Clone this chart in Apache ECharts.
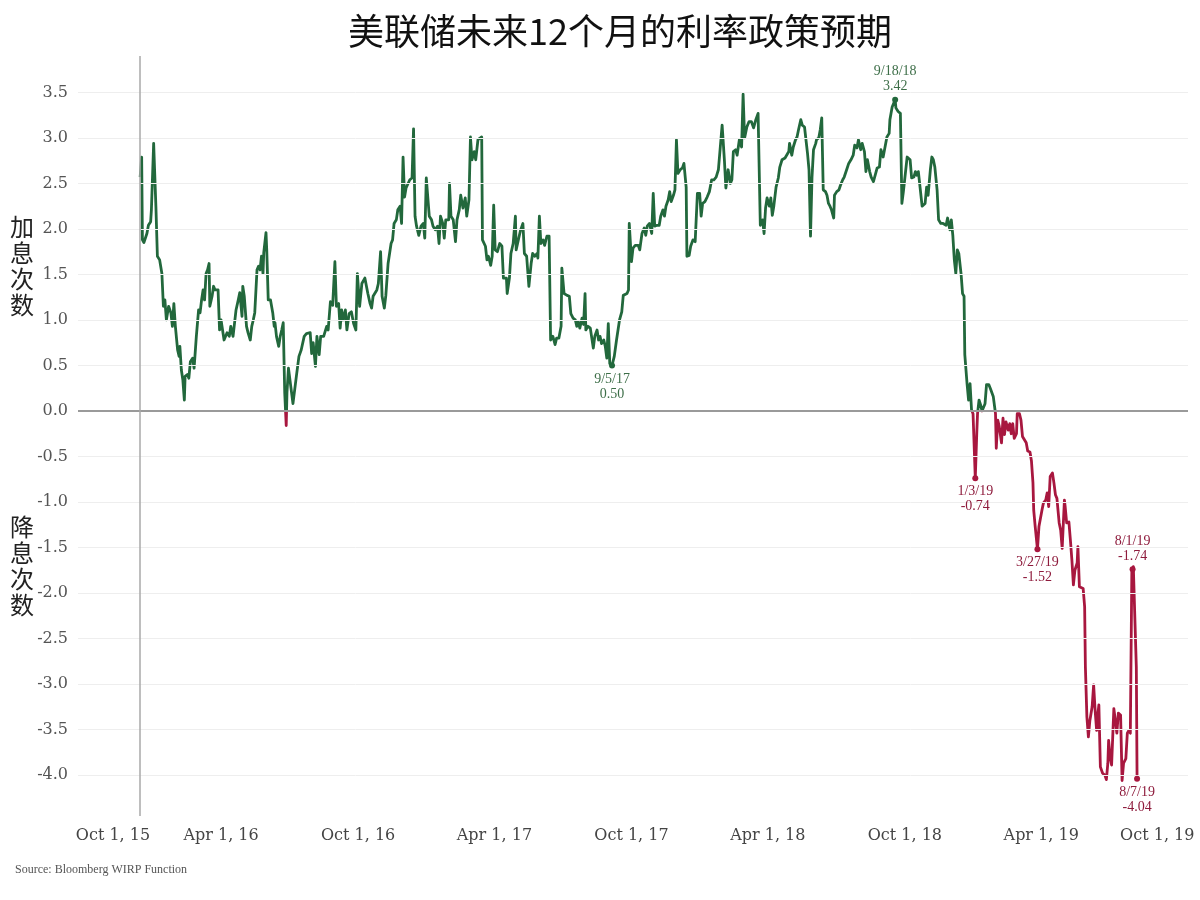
<!DOCTYPE html>
<html><head><meta charset="utf-8">
<script src="https://cdn.jsdelivr.net/npm/echarts@6/dist/echarts.min.js"></script>
<style>html,body{margin:0;padding:0;background:#fff}#c{width:1200px;height:900px}</style>
</head><body><div id="c"></div>
<script>
const dates = [
'2015-12-15','2015-12-17','2015-12-18','2015-12-20','2015-12-24','2015-12-26','2015-12-29','2015-12-30',
'2016-01-02','2016-01-05','2016-01-07','2016-01-10','2016-01-13','2016-01-15','2016-01-17','2016-01-19','2016-01-22','2016-01-25','2016-01-27','2016-01-29','2016-01-31',
'2016-02-03','2016-02-05','2016-02-06','2016-02-08','2016-02-10','2016-02-12','2016-02-13','2016-02-16','2016-02-18','2016-02-20','2016-02-23','2016-02-25','2016-02-28',
'2016-03-02','2016-03-04','2016-03-06','2016-03-08','2016-03-10','2016-03-12','2016-03-14','2016-03-16','2016-03-17','2016-03-20','2016-03-22','2016-03-24','2016-03-26','2016-03-28','2016-03-30',
'2016-04-01','2016-04-03','2016-04-05','2016-04-09','2016-04-12','2016-04-14','2016-04-17','2016-04-19','2016-04-21','2016-04-24','2016-04-26','2016-04-29','2016-04-30',
'2016-05-02','2016-05-05','2016-05-07','2016-05-10','2016-05-12','2016-05-14','2016-05-16','2016-05-19','2016-05-21','2016-05-23','2016-05-25','2016-05-27','2016-05-28','2016-05-31',
'2016-06-01','2016-06-03','2016-06-06','2016-06-09','2016-06-11','2016-06-12','2016-06-14','2016-06-17','2016-06-19','2016-06-21','2016-06-23','2016-06-25','2016-06-27','2016-06-28','2016-06-30',
'2016-07-06','2016-07-11','2016-07-14','2016-07-17','2016-07-21','2016-07-24','2016-07-29','2016-07-31',
'2016-08-02','2016-08-05','2016-08-07','2016-08-10','2016-08-12','2016-08-16','2016-08-20','2016-08-22','2016-08-25','2016-08-28','2016-08-31',
'2016-09-02','2016-09-05','2016-09-07','2016-09-09','2016-09-11','2016-09-14','2016-09-16','2016-09-19','2016-09-22','2016-09-25','2016-09-28','2016-09-30',
'2016-10-03','2016-10-06','2016-10-10','2016-10-14','2016-10-17','2016-10-19','2016-10-21','2016-10-26','2016-10-28','2016-10-31',
'2016-11-02','2016-11-05','2016-11-07','2016-11-10','2016-11-14','2016-11-16','2016-11-18','2016-11-21','2016-11-23','2016-11-26','2016-11-28','2016-11-30',
'2016-12-02','2016-12-04','2016-12-06','2016-12-09','2016-12-12','2016-12-14','2016-12-16','2016-12-18','2016-12-21','2016-12-24','2016-12-27','2016-12-29','2016-12-31',
'2017-01-02','2017-01-04','2017-01-07','2017-01-09','2017-01-12','2017-01-15','2017-01-17','2017-01-19','2017-01-22','2017-01-24','2017-01-26','2017-01-30','2017-01-31',
'2017-02-02','2017-02-05','2017-02-08','2017-02-10','2017-02-13','2017-02-15','2017-02-18','2017-02-21','2017-02-23','2017-02-26','2017-02-28',
'2017-03-02','2017-03-05','2017-03-07','2017-03-10','2017-03-12','2017-03-15','2017-03-16','2017-03-20','2017-03-22','2017-03-24','2017-03-27','2017-03-29','2017-03-31',
'2017-04-02','2017-04-05','2017-04-08','2017-04-11','2017-04-13','2017-04-17','2017-04-18','2017-04-21','2017-04-23','2017-04-26','2017-04-29','2017-04-30',
'2017-05-04','2017-05-06','2017-05-09','2017-05-11','2017-05-14','2017-05-17','2017-05-20','2017-05-22','2017-05-25','2017-05-28','2017-05-29','2017-05-31',
'2017-06-02','2017-06-05','2017-06-07','2017-06-10','2017-06-13','2017-06-15','2017-06-18','2017-06-21','2017-06-23','2017-06-26','2017-06-29','2017-06-30',
'2017-07-03','2017-07-07','2017-07-10','2017-07-12','2017-07-15','2017-07-18','2017-07-20','2017-07-22','2017-07-24','2017-07-27','2017-07-29','2017-07-31',
'2017-08-01','2017-08-04','2017-08-07','2017-08-09','2017-08-11','2017-08-13','2017-08-16','2017-08-18','2017-08-20','2017-08-22','2017-08-25','2017-08-27','2017-08-29','2017-08-31',
'2017-09-02','2017-09-05','2017-09-08','2017-09-11','2017-09-15','2017-09-18','2017-09-20','2017-09-22','2017-09-25','2017-09-27','2017-09-28',
'2017-10-01','2017-10-03','2017-10-06','2017-10-10','2017-10-12','2017-10-15','2017-10-18','2017-10-20','2017-10-22','2017-10-25','2017-10-28','2017-10-30',
'2017-11-01','2017-11-04','2017-11-07','2017-11-09','2017-11-12','2017-11-14','2017-11-16','2017-11-19','2017-11-21','2017-11-23','2017-11-26','2017-11-28','2017-11-30',
'2017-12-02','2017-12-05','2017-12-08','2017-12-10','2017-12-13','2017-12-14','2017-12-17','2017-12-19','2017-12-22','2017-12-25','2017-12-28','2017-12-31',
'2018-01-02','2018-01-04','2018-01-07','2018-01-10','2018-01-13','2018-01-16','2018-01-19','2018-01-22','2018-01-25','2018-01-27','2018-01-30',
'2018-02-02','2018-02-04','2018-02-07','2018-02-10','2018-02-12','2018-02-14','2018-02-17','2018-02-19','2018-02-22','2018-02-25','2018-02-27',
'2018-03-01','2018-03-04','2018-03-07','2018-03-10','2018-03-13','2018-03-16','2018-03-19','2018-03-22','2018-03-25','2018-03-27','2018-03-29','2018-03-31',
'2018-04-03','2018-04-05','2018-04-07','2018-04-09','2018-04-12','2018-04-15','2018-04-17','2018-04-20','2018-04-24','2018-04-26','2018-04-29','2018-04-30',
'2018-05-03','2018-05-05','2018-05-08','2018-05-10','2018-05-12','2018-05-15','2018-05-17','2018-05-20','2018-05-22','2018-05-24','2018-05-26','2018-05-28','2018-05-30',
'2018-06-01','2018-06-04','2018-06-05','2018-06-08','2018-06-10','2018-06-12','2018-06-14','2018-06-17','2018-06-19','2018-06-21','2018-06-23','2018-06-25','2018-06-28','2018-06-29',
'2018-07-02','2018-07-05','2018-07-07','2018-07-10','2018-07-12','2018-07-16','2018-07-18','2018-07-21','2018-07-24','2018-07-26','2018-07-29','2018-07-31',
'2018-08-03','2018-08-05','2018-08-08','2018-08-10','2018-08-12','2018-08-15','2018-08-17','2018-08-20','2018-08-23','2018-08-25','2018-08-28','2018-08-30',
'2018-09-02','2018-09-04','2018-09-07','2018-09-10','2018-09-11','2018-09-14','2018-09-18','2018-09-19','2018-09-22','2018-09-25','2018-09-27','2018-09-29',
'2018-10-01','2018-10-04','2018-10-06','2018-10-08','2018-10-10','2018-10-13','2018-10-15','2018-10-17','2018-10-19','2018-10-21','2018-10-24','2018-10-26','2018-10-28','2018-10-30',
'2018-11-01','2018-11-04','2018-11-06','2018-11-08','2018-11-10','2018-11-13','2018-11-15','2018-11-18','2018-11-21','2018-11-23','2018-11-25','2018-11-27','2018-11-30',
'2018-12-02','2018-12-04','2018-12-06','2018-12-08','2018-12-10','2018-12-12','2018-12-15','2018-12-17','2018-12-19','2018-12-20','2018-12-23','2018-12-25','2018-12-27','2018-12-29','2018-12-31',
'2019-01-03','2019-01-05','2019-01-06','2019-01-08','2019-01-10','2019-01-12','2019-01-14','2019-01-16','2019-01-18','2019-01-21','2019-01-23','2019-01-25','2019-01-27','2019-01-30','2019-01-31',
'2019-02-02','2019-02-04','2019-02-07','2019-02-09','2019-02-11','2019-02-13','2019-02-16','2019-02-18','2019-02-20','2019-02-22','2019-02-24','2019-02-27','2019-02-28',
'2019-03-03','2019-03-05','2019-03-07','2019-03-09','2019-03-12','2019-03-14','2019-03-17','2019-03-19','2019-03-21','2019-03-22','2019-03-24','2019-03-27','2019-03-29','2019-03-30',
'2019-04-02','2019-04-04','2019-04-07','2019-04-09','2019-04-11','2019-04-13','2019-04-16','2019-04-18','2019-04-20','2019-04-22','2019-04-25','2019-04-27','2019-04-29',
'2019-05-02','2019-05-03','2019-05-05','2019-05-08','2019-05-10','2019-05-12','2019-05-14','2019-05-16','2019-05-19','2019-05-20','2019-05-22','2019-05-24','2019-05-27','2019-05-29','2019-05-30',
'2019-06-01','2019-06-03','2019-06-05','2019-06-08','2019-06-10','2019-06-12','2019-06-14','2019-06-15','2019-06-17','2019-06-19','2019-06-22','2019-06-25','2019-06-27','2019-06-29','2019-06-30',
'2019-07-02','2019-07-04','2019-07-07','2019-07-09','2019-07-11','2019-07-13','2019-07-16','2019-07-18','2019-07-20','2019-07-23','2019-07-25','2019-07-27','2019-07-29','2019-07-31',
'2019-08-01','2019-08-02','2019-08-06','2019-08-07'
];
const values = [
2.57,2.79,1.88,1.85,1.95,2.04,2.08,2.21,
2.94,2.25,1.70,1.66,1.51,1.15,1.22,1.00,1.15,1.08,0.93,1.18,0.93,
0.67,0.60,0.71,0.45,0.34,0.12,0.38,0.40,0.36,0.54,0.58,0.47,0.82,
1.11,1.08,1.22,1.33,1.22,1.51,1.55,1.62,1.15,1.26,1.37,1.33,1.33,1.33,0.89,
1.00,0.89,0.78,0.86,0.82,0.93,0.82,0.82,1.11,1.22,1.30,1.04,1.37,
1.26,0.93,0.86,0.78,0.93,1.00,1.08,1.55,1.59,1.55,1.70,1.51,1.74,1.96,
1.77,1.22,1.22,1.08,0.93,0.97,0.82,0.71,0.82,0.89,0.97,0.20,-0.16,0.20,0.47,
0.08,0.41,0.60,0.67,0.82,0.85,0.86,0.63,
0.75,0.49,0.82,0.62,0.82,0.82,0.93,0.89,1.20,1.16,1.64,
1.15,1.18,0.91,1.11,1.00,1.11,0.89,1.07,1.09,0.96,0.89,1.51,
1.15,1.40,1.46,1.29,1.18,1.13,1.26,1.33,1.40,1.75,
1.26,1.13,1.27,1.62,1.84,1.88,2.06,2.10,2.21,2.25,2.06,2.79,
2.35,2.45,2.43,2.54,2.56,3.10,2.14,2.03,1.93,2.03,2.06,1.90,2.56,
2.56,2.14,2.10,2.03,1.99,2.03,1.84,2.14,2.06,1.90,2.10,2.10,2.50,
2.14,2.10,1.86,2.10,2.21,2.37,2.23,2.34,2.14,2.32,3.01,
2.76,2.85,2.76,2.98,3.00,3.01,1.88,1.81,1.66,1.70,1.60,1.70,2.26,
1.77,1.75,1.84,1.81,1.46,1.46,1.29,1.46,1.73,1.84,2.14,1.77,
1.92,1.99,2.06,1.73,1.70,1.37,1.62,1.73,1.70,1.73,1.68,2.14,
1.84,1.88,1.82,1.92,1.92,0.78,0.82,0.73,0.80,0.80,0.93,1.57,
1.29,1.27,1.26,1.07,1.02,1.00,0.93,0.98,0.91,1.02,0.95,1.29,
0.89,0.93,0.91,0.93,0.69,0.82,0.89,0.78,0.82,0.74,0.78,0.71,0.58,0.96,
0.52,0.50,0.60,0.78,1.00,1.09,1.27,1.26,1.29,1.33,2.06,
1.64,1.79,1.82,1.82,1.77,1.95,2.01,1.93,2.03,2.06,1.95,2.39,
2.03,2.04,2.04,2.14,2.21,2.14,2.25,2.32,2.41,2.30,2.37,2.43,2.98,
2.61,2.65,2.67,2.72,2.46,1.70,1.71,1.81,1.88,1.86,2.39,2.39,
2.14,2.28,2.30,2.35,2.41,2.54,2.54,2.57,2.65,2.63,3.14,
2.76,2.45,2.65,2.50,2.54,2.85,2.87,2.81,2.98,2.90,3.48,
3.00,3.12,3.18,3.18,3.11,3.20,3.27,2.04,2.10,1.95,2.23,2.34,
2.25,2.34,2.15,2.25,2.46,2.56,2.68,2.76,2.78,2.79,2.85,2.94,
2.81,2.90,2.98,3.01,3.09,3.20,3.14,3.12,3.11,2.83,2.65,1.92,2.57,
2.87,2.94,2.98,3.00,3.09,3.22,2.43,2.41,2.37,2.28,2.25,2.21,2.12,2.37,
2.41,2.43,2.48,2.54,2.57,2.67,2.72,2.76,2.81,2.92,2.89,2.98,
2.87,2.94,2.85,2.63,2.76,2.63,2.57,2.52,2.61,2.67,2.68,2.87,
2.79,2.79,3.01,3.05,3.20,3.34,3.42,3.33,3.29,3.27,2.28,2.41,
2.41,2.79,2.78,2.76,2.56,2.57,2.63,2.59,2.63,2.61,2.25,2.23,2.28,2.46,
2.37,2.65,2.79,2.76,2.68,2.43,2.10,2.06,2.06,2.08,2.04,2.12,1.99,
2.10,1.93,1.66,1.51,1.77,1.73,1.51,1.29,1.26,0.62,0.30,0.12,0.30,0.01,-0.03,
-0.74,-0.24,-0.03,0.12,0.07,0.00,0.01,0.08,0.29,0.29,0.25,0.27,0.16,-0.03,-0.41,
-0.10,-0.17,-0.35,-0.08,-0.26,-0.12,-0.21,-0.14,-0.25,-0.14,-0.30,-0.25,-0.03,
-0.03,-0.10,-0.28,-0.28,-0.35,-0.44,-0.45,-0.55,-0.79,-1.09,-1.27,-1.52,-1.27,-1.27,
-1.09,-1.01,-0.98,-0.90,-1.05,-0.72,-0.68,-0.79,-0.92,-0.96,-1.23,-1.31,-1.51,
-0.98,-1.05,-1.23,-1.22,-1.42,-1.64,-1.91,-1.75,-1.67,-1.49,-1.93,-1.91,-1.95,-2.15,-2.81,
-3.36,-3.58,-3.40,-3.25,-3.01,-3.29,-3.51,-3.38,-3.23,-3.91,-3.98,-4.00,-4.05,-3.87,-3.62,
-3.80,-3.89,-3.27,-3.40,-3.54,-3.32,-3.34,-4.06,-3.87,-3.82,-3.54,-3.51,-3.54,-1.77,
-1.74,-1.71,-2.81,-4.04
];
const yTicks = [3.5,3.0,2.5,2.0,1.5,1.0,0.5,0.0,-0.5,-1.0,-1.5,-2.0,-2.5,-3.0,-3.5,-4.0];
const xTickDates = ['2015-10-01','2016-04-01','2016-10-01','2017-04-01','2017-10-01','2018-04-01','2018-10-01','2019-04-01','2019-10-01'];
const xTickLabels = ['Oct 1, 15','Apr 1, 16','Oct 1, 16','Apr 1, 17','Oct 1, 17','Apr 1, 18','Oct 1, 18','Apr 1, 19','Oct 1, 19'];
const annoDates = ['2018-09-18','2017-09-05','2019-01-03','2019-03-27','2019-08-01','2019-08-07'];
const annoText = ['9/18/18','9/5/17','1/3/19','3/27/19','8/1/19','8/7/19'];
const annoPos = ['top','bottom','bottom','bottom','top','bottom'];
const titleText = '美联储未来12个月的利率政策预期';
const upName = '加\n息\n次\n数';
const downName = '降\n息\n次\n数';
const sourceText = 'Source: Bloomberg WIRP Function';

function ts(s){const p=s.split('-').map(Number);return new Date(p[0],p[1]-1,p[2]).getTime();}
const GREEN='#22683c', RED='#a8173f';
const seriesData = dates.map((d,i)=>[ts(d),values[i]]);
const xTs = xTickDates.map(ts);
const lblFont = {fontFamily:'DejaVu Serif',fontSize:16,color:'#444'};
// two-colour stroke split at the zero level, positioned from the data extent
const vMax = Math.max(...values), vMin = Math.min(...values);
const zeroOff = vMax/(vMax - vMin);
const lineColor = new echarts.graphic.LinearGradient(0,0,0,1,[
  {offset:0,color:GREEN},{offset:zeroOff,color:GREEN},{offset:zeroOff,color:RED},{offset:1,color:RED}]);

const chart = echarts.init(document.getElementById('c'),null,{renderer:'canvas'});
chart.setOption({
  animation:false,
  backgroundColor:'#fff',
  title:{text:titleText,left:343,top:8,textStyle:{fontFamily:'Noto Sans CJK SC',fontSize:36,fontWeight:'normal',color:'#111'}},
  grid:{left:78,right:12,top:56,bottom:84,containLabel:false},
  xAxis:{type:'value',min:ts('2015-09-23'),max:ts('2019-10-14'),scale:true,
    axisLine:{show:false},axisTick:{show:false},splitLine:{show:false},
    axisLabel:{customValues:xTs,margin:12,...lblFont,
      formatter:function(v){let i=-1;for(let k=0;k<xTs.length;k++){if(Math.abs(xTs[k]-v)<3600000){i=k;}}
        const t=i>=0?xTickLabels[i]:'';
        if(i===0) return '{first|'+t+'}';
        if(i===xTs.length-1) return '{last|'+t+'}';
        return t;},
      rich:{first:{...lblFont,padding:[0,0,0,58]},last:{...lblFont,padding:[0,42,0,0]}}}},
  yAxis:{type:'value',min:-4.45,max:3.9,
    axisLine:{show:false},axisTick:{show:false},splitLine:{show:false},
    axisLabel:{customValues:yTicks,margin:10,fontFamily:'DejaVu Serif',fontSize:16,color:'#555',formatter:v=>Number(v).toFixed(1)}},
  graphic:[
    {type:'text',left:10,top:214,style:{text:upName,fontFamily:'Noto Sans CJK SC',fontSize:24,lineHeight:26,fill:'#222'}},
    {type:'text',left:10,top:514,style:{text:downName,fontFamily:'Noto Sans CJK SC',fontSize:24,lineHeight:26,fill:'#222'}},
    {type:'text',left:15,top:864,style:{text:sourceText,fontFamily:'Liberation Serif',fontSize:12,fill:'#555'}}
  ],
  series:[
    {type:'line',data:[],z:1,silent:true,
      markLine:{silent:true,symbol:['none','none'],label:{show:false},animation:false,
        data:[
          ...yTicks.filter(v=>v!==0).map(v=>({yAxis:v,lineStyle:{color:'#eeeeee',width:1,type:'solid'}})),
          {yAxis:0,lineStyle:{color:'#9a9a9a',width:2,type:'solid'}},
          {xAxis:ts(dates[0]),lineStyle:{color:'#a8a8a8',width:1.5,type:'solid'}}
        ]}},
    {type:'line',data:seriesData,z:3,showSymbol:false,symbol:'none',
      lineStyle:{width:2.8,join:'round',color:lineColor},
      markPoint:{symbol:'circle',symbolSize:6,animation:false,
        data:annoDates.map((d,i)=>{const v=values[dates.indexOf(d)];const c=v>0?GREEN:RED;const tc=v>0?'#3d6e48':'#8e1b3c';
          return {coord:[ts(d),v],itemStyle:{color:c},
            label:{show:true,position:annoPos[i],distance:3,formatter:annoText[i]+'\n'+v.toFixed(2),
              color:tc,fontFamily:'Liberation Serif',fontSize:14,lineHeight:15}};})}}
  ]
});
</script></body></html>
